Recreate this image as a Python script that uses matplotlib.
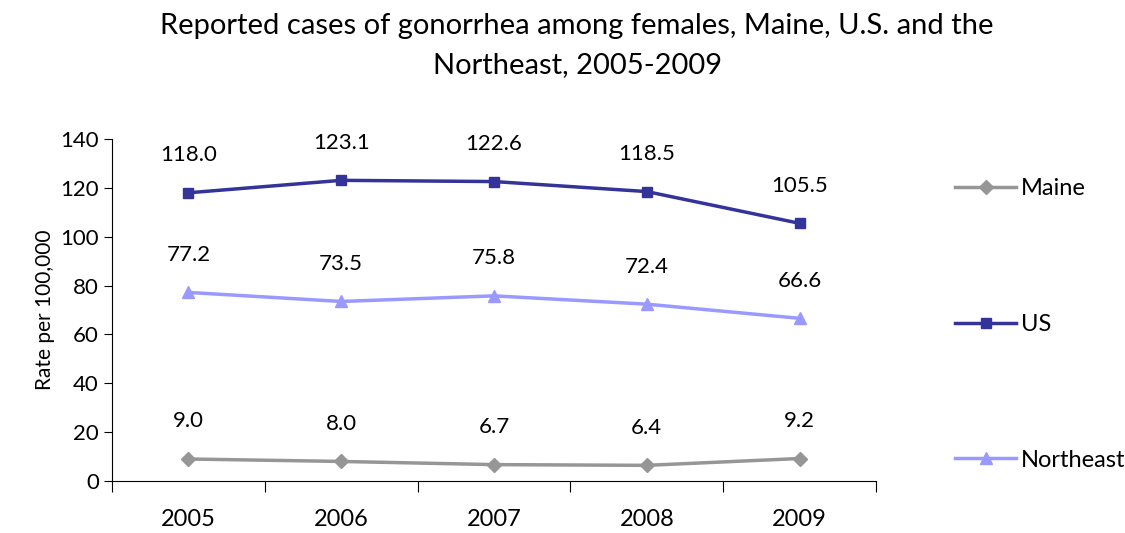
import matplotlib.pyplot as plt
from matplotlib.lines import Line2D

plt.rcParams['font.family'] = ['Lato', 'DejaVu Sans']

years = ['2005', '2006', '2007', '2008', '2009']
maine = [9.0, 8.0, 6.7, 6.4, 9.2]
us = [118.0, 123.1, 122.6, 118.5, 105.5]
northeast = [77.2, 73.5, 75.8, 72.4, 66.6]

series = [
    ('Maine', maine, '#969696', 'D', 7),
    ('US', us, '#333399', 's', 7),
    ('Northeast', northeast, '#9999FF', '^', 8),
]

fig = plt.figure(figsize=(11.25, 5.33), dpi=100)
ax = fig.add_axes([0.0996, 0.0976, 0.679, 0.6415])

x = list(range(len(years)))
handles = []
for name, vals, color, marker, ms in series:
    ax.plot(x, vals, color=color, marker=marker, markersize=ms, linewidth=2.5)
    for xi, v in zip(x, vals):
        ax.annotate(f'{v:.1f}', (xi, v), xytext=(0, 27), textcoords='offset points',
                    ha='center', va='center', fontsize=16)
    handles.append(Line2D([], [], color=color, marker=marker, markersize=ms, linewidth=2.5, label=name))

ax.set_xlim(-0.5, 4.5)
ax.set_ylim(0, 140)
ax.set_yticks(range(0, 141, 20))
ax.set_xticks([i - 0.5 for i in range(len(years) + 1)])
ax.set_xticklabels([])
ax.set_xticks(x, minor=True)
ax.set_xticklabels(years, minor=True)
ax.tick_params(axis='x', which='major', direction='out', length=8, color='black')
ax.tick_params(axis='x', which='minor', length=0, pad=20, labelsize=17)
ax.tick_params(axis='y', direction='out', length=6, labelsize=16)
for s in ['top', 'right']:
    ax.spines[s].set_visible(False)
ax.set_ylabel('Rate per 100,000', fontsize=15)

fig.suptitle('Reported cases of gonorrhea among females, Maine, U.S. and the\nNortheast, 2005-2009',
             x=0.513, y=0.975, fontsize=21, linespacing=1.6)

fig.legend(handles=handles, loc='upper left', bbox_to_anchor=(0.83, 0.705), frameon=False,
           fontsize=17, labelspacing=4.85, handlelength=2.6, handletextpad=0.2)

fig.savefig('out.png', dpi=100)
